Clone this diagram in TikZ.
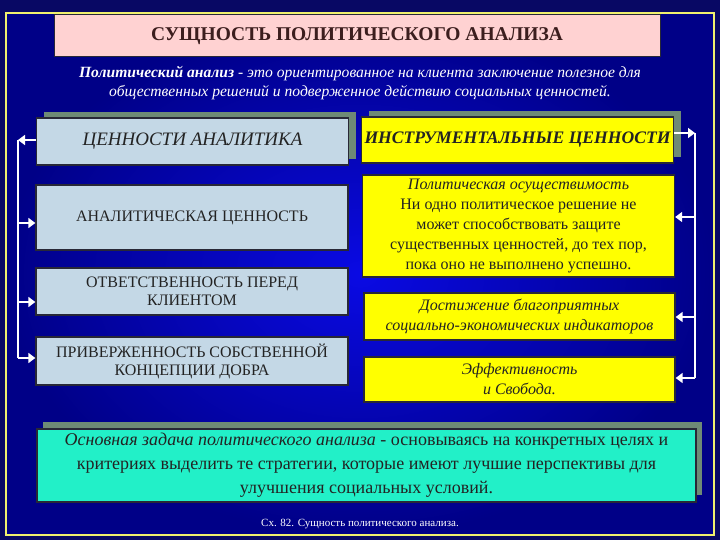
\documentclass[tikz,border=0pt]{standalone}
\usepackage{fontspec}
\setmainfont{Liberation Serif}
\usetikzlibrary{arrows.meta,shadows}

\definecolor{outerbg}{RGB}{8,8,100}
\definecolor{innerblue}{RGB}{10,10,228}
\definecolor{edgeblue}{RGB}{0,0,135}
\definecolor{framey}{RGB}{240,240,110}
\definecolor{titlepink}{RGB}{255,210,210}
\definecolor{titletext}{RGB}{60,30,30}
\definecolor{valblue}{RGB}{196,216,230}
\definecolor{instryellow}{RGB}{255,255,0}
\definecolor{taskcyan}{RGB}{34,240,200}
\definecolor{shadowgrey}{RGB}{110,138,118}
\definecolor{boxedge}{RGB}{40,40,55}
\definecolor{textdark}{RGB}{35,35,35}

\tikzset{
	anybox/.style={draw=boxedge, line width=1.3pt, align=center, text=textdark, inner sep=2pt},
	valbox/.style={anybox, fill=valblue, minimum width=312pt, font=\fontsize{16}{18}\selectfont},
	instrbox/.style={anybox, fill=instryellow, minimum width=312pt, font=\fontsize{16}{20}\selectfont},
	headshadow/.style={drop shadow={shadow xshift=7pt, shadow yshift=6pt, fill=shadowgrey, opacity=1}},
	link/.style={white, line width=2.6pt, -{Triangle[width=10pt,length=7pt]}},
	brace/.style={white, line width=2pt},
}

\begin{document}
\begin{tikzpicture}[x=1pt,y=-1pt]
	\fill[outerbg] (0,0) rectangle (720,540);
	\shade[inner color=innerblue, outer color=edgeblue] (6,13) rectangle (714,535);
	\draw[framey, line width=1.8pt] (6,13) rectangle (714,535);
	
	\node[draw=boxedge, line width=1pt, fill=titlepink, minimum width=606pt, minimum height=42pt,
		text=titletext, font=\fontsize{19.5}{21}\selectfont\bfseries] (title) at (357,36) {СУЩНОСТЬ ПОЛИТИЧЕСКОГО АНАЛИЗА};
	\node[white, align=center, font=\fontsize{15.6}{19}\selectfont\itshape] (def) at (360,83)
		{\textbf{Политический анализ} - это ориентированное на клиента заключение полезное для\\
		общественных решений и подверженное действию социальных ценностей.};
	
	\node[valbox, headshadow, minimum height=47pt, font=\fontsize{19}{21}\selectfont\itshape] (L0) at (192.5,141.5) {ЦЕННОСТИ АНАЛИТИКА};
	\node[valbox, minimum height=65pt] (L1) at (192,217.5) {АНАЛИТИЧЕСКАЯ ЦЕННОСТЬ};
	\node[valbox, minimum height=47pt] (L2) at (192,291.5) {ОТВЕТСТВЕННОСТЬ ПЕРЕД\\КЛИЕНТОМ};
	\node[valbox, minimum height=48pt] (L3) at (192,361) {ПРИВЕРЖЕННОСТЬ СОБСТВЕННОЙ\\КОНЦЕПЦИИ ДОБРА};
	
	\node[instrbox, headshadow, minimum height=46pt, font=\fontsize{17.6}{19}\selectfont\bfseries\itshape] (R0) at (517.5,140) {ИНСТРУМЕНТАЛЬНЫЕ ЦЕННОСТИ};
	\node[instrbox, minimum height=102pt] (R1) at (518.5,226)
		{\textit{Политическая осуществимость}\\Ни одно политическое решение не\\может способствовать защите\\
		существенных ценностей, до тех пор,\\пока оно не выполнено успешно.};
	\node[instrbox, minimum width=311pt, minimum height=47pt, font=\fontsize{16}{20}\selectfont\itshape] (R2) at (519.5,316.5)
		{Достижение благоприятных\\социально-экономических индикаторов};
	\node[instrbox, minimum width=311pt, minimum height=45pt, font=\fontsize{16}{20}\selectfont\itshape] (R3) at (519.5,379.5)
		{Эффективность\\и Свобода.};
	
	\coordinate (lt) at (18,140);
	\coordinate (l1) at (18,223);
	\coordinate (l2) at (18,302);
	\coordinate (lb) at (18,358);
	\draw[brace] (lt) -- (lb);
	\draw[link] (L0.west |- lt) -- (lt);
	\draw[link] (l1) -- (l1 -| L1.west);
	\draw[link] (l2) -- (l2 -| L2.west);
	\draw[link] (lb) -- (lb -| L3.west);
	
	\coordinate (rt) at (695,133);
	\coordinate (r1) at (695,217);
	\coordinate (r2) at (695,317);
	\coordinate (rb) at (695,378);
	\draw[brace] (rt) -- (rb);
	\draw[link] (R0.east |- rt) -- (rt);
	\draw[link] (r1) -- (r1 -| R1.east);
	\draw[link] (r2) -- (r2 -| R2.east);
	\draw[link] (rb) -- (rb -| R3.east);
	
	\node[anybox, fill=taskcyan, minimum width=659pt, minimum height=73pt, font=\fontsize{18}{24}\selectfont,
		drop shadow={shadow xshift=6pt, shadow yshift=7pt, fill=shadowgrey, opacity=1}] (task) at (366.5,465.5)
		{\textit{Основная задача политического анализа} - основываясь на конкретных целях и\\
		критериях выделить те стратегии, которые имеют лучшие перспективы для\\улучшения социальных условий.};
	
	\node[white, font=\fontsize{11}{13}\selectfont] (cap) at (360,524) {Сх. 82. Сущность политического анализа.};
\end{tikzpicture}
\end{document}
